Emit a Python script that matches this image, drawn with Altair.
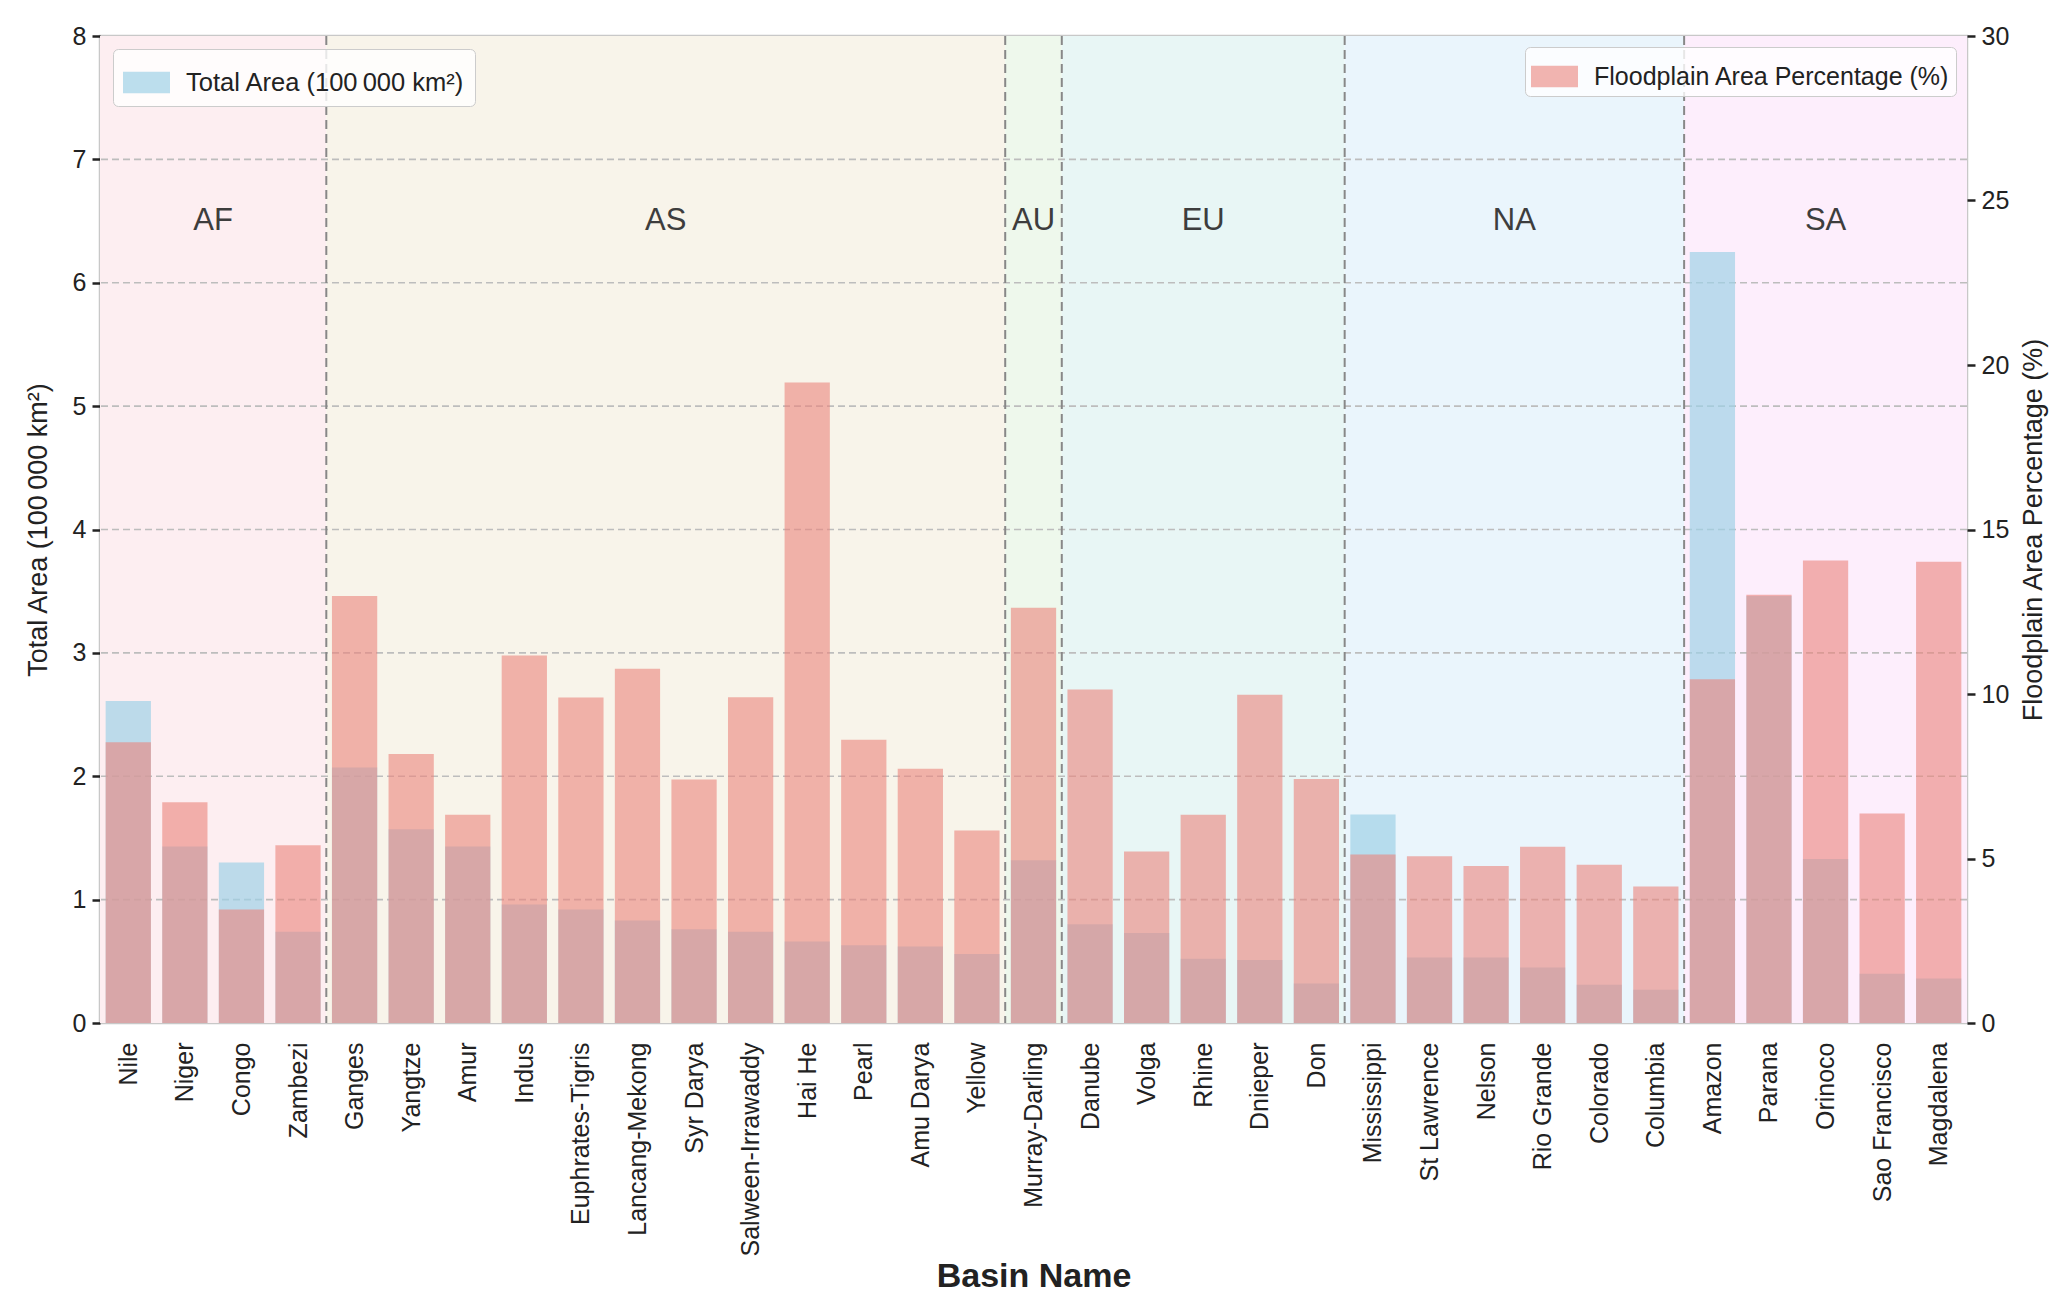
import json
import altair as alt
import pandas as pd

basins = ["Nile", "Niger", "Congo", "Zambezi",
          "Ganges", "Yangtze", "Amur", "Indus", "Euphrates-Tigris", "Lancang-Mekong",
          "Syr Darya", "Salween-Irrawaddy", "Hai He", "Pearl", "Amu Darya", "Yellow",
          "Murray-Darling",
          "Danube", "Volga", "Rhine", "Dnieper", "Don",
          "Mississippi", "St Lawrence", "Nelson", "Rio Grande", "Colorado", "Columbia",
          "Amazon", "Parana", "Orinoco", "Sao Francisco", "Magdalena"]
continents = (["AF"] * 4 + ["AS"] * 12 + ["AU"] * 1 + ["EU"] * 5 + ["NA"] * 6 + ["SA"] * 5)
total_area = [2.61, 1.43, 1.30, 0.74,
              2.07, 1.57, 1.43, 0.96, 0.92, 0.83, 0.76, 0.74, 0.66, 0.63, 0.62, 0.56,
              1.32,
              0.80, 0.73, 0.52, 0.51, 0.32,
              1.69, 0.53, 0.53, 0.45, 0.31, 0.27,
              6.25, 3.46, 1.33, 0.40, 0.36]
floodplain_pct = [8.53, 6.71, 3.45, 5.40,
                  12.98, 8.18, 6.33, 11.17, 9.89, 10.77, 7.40, 9.90, 19.47, 8.61, 7.73, 5.85,
                  12.62,
                  10.14, 5.21, 6.33, 9.98, 7.42,
                  5.12, 5.07, 4.77, 5.36, 4.81, 4.15,
                  10.45, 13.02, 14.06, 6.37, 14.02]
continent_order = ["AF", "AS", "AU", "EU", "NA", "SA"]
continent_bg = ["#fdeef1", "#f8f4ea", "#eef8ec", "#e8f6f5", "#eaf5fc", "#fdeefc"]

label_area = "Total Area (100\u2009000 km²)"
label_pct = "Floodplain Area Percentage (%)"

n = len(basins)
df = pd.DataFrame({
    "idx": list(range(n)),
    "basin": basins,
    "continent": continents,
    "area": total_area,
    "pct": floodplain_pct,
    "s_area": [label_area] * n,
    "s_pct": [label_pct] * n,
})

rows = []
for c in continent_order:
    ids = [i for i, cc in enumerate(continents) if cc == c]
    rows.append({"continent": c, "start": min(ids) - 0.5, "end": max(ids) + 0.5,
                 "mid": (min(ids) + max(ids)) / 2})
reg = pd.DataFrame(rows)
bounds = pd.DataFrame({"b": reg["end"].tolist()[:-1]})
grid_df = pd.DataFrame({"g": [1, 2, 3, 4, 5, 6, 7]})

W, H = 1867, 987
FONT = "Liberation Sans, Arial, sans-serif"
xscale = alt.Scale(domain=[-0.5, n - 0.5], nice=False, zero=False)
yl = alt.Scale(domain=[0, 8], nice=False)
yr = alt.Scale(domain=[0, 30], nice=False)

rect_sym = "M-1,-0.46L1,-0.46L1,0.46L-1,0.46Z"
names_js = json.dumps(basins)

x_axis = alt.Axis(values=list(range(n)), labelExpr=f"{names_js}[datum.value]",
                  title="Basin Name", titleFontSize=34, titleFontWeight="bold",
                  titleFont=FONT, titleColor="#222", titlePadding=36,
                  labelAngle=270, labelFontSize=25, labelFont=FONT, labelColor="#222",
                  labelPadding=19, labelLimit=500, ticks=False, domain=False, grid=False,
                  labelFlush=False, labelOverlap=False)
yl_axis = alt.Axis(values=[0, 1, 2, 3, 4, 5, 6, 7, 8], format="d", title=label_area,
                   titleFontSize=27, titleFont=FONT, titleFontWeight="normal",
                   titleColor="#222", titlePadding=20,
                   labelFontSize=25, labelFont=FONT, labelColor="#222", labelPadding=6,
                   tickColor="#222", tickWidth=2.5, tickSize=8, domain=False, grid=False)
yr_axis = alt.Axis(orient="right", values=[0, 5, 10, 15, 20, 25, 30], format="d", title=label_pct,
                   titleFontSize=27, titleFont=FONT, titleFontWeight="normal",
                   titleColor="#222", titlePadding=12, titleAngle=270, titleBaseline="top",
                   labelFontSize=25, labelFont=FONT, labelColor="#222", labelPadding=6,
                   tickColor="#222", tickWidth=2.5, tickSize=8, domain=False, grid=False)

bg = alt.Chart(reg).mark_rect().encode(
    x=alt.X("start:Q", scale=xscale, axis=x_axis),
    x2="end:Q",
    y=alt.value(0),
    y2=alt.value(H),
    fill=alt.Fill("continent:N", scale=alt.Scale(domain=continent_order, range=continent_bg), legend=None),
)

grid = alt.Chart(grid_df).mark_rule(color="#bdbdbd", strokeDash=[7, 4], strokeWidth=1.6).encode(
    y=alt.Y("g:Q", scale=yl, axis=yl_axis),
)

blue = alt.Chart(df).transform_calculate(
    x0="datum.idx - 0.4", x1="datum.idx + 0.4"
).mark_bar(opacity=0.7).encode(
    x=alt.X("x0:Q", scale=xscale, axis=x_axis),
    x2="x1:Q",
    y=alt.Y("area:Q", scale=yl, axis=yl_axis),
    y2=alt.datum(0),
    color=alt.Color("s_area:N", scale=alt.Scale(domain=[label_area], range=["#a0d1e7"]),
                    legend=alt.Legend(orient="top-left", title=None, offset=13,
                                      labelFontSize=25.5, labelFont=FONT, labelColor="#222",
                                      labelLimit=800, symbolType=rect_sym, symbolSize=2209,
                                      symbolOpacity=0.7, symbolStrokeWidth=0,
                                      fillColor="rgba(255,255,255,0.8)", strokeColor="#cccccc",
                                      cornerRadius=5, padding=10, labelOffset=16)),
)

dividers = alt.Chart(bounds).mark_rule(color="#888888", strokeDash=[9, 5], strokeWidth=2).encode(
    x=alt.X("b:Q", scale=xscale, axis=x_axis),
    y=alt.value(0),
    y2=alt.value(H),
)

cont_text = alt.Chart(reg).mark_text(fontSize=31, font=FONT, color="#3d3d3d", baseline="middle").encode(
    x=alt.X("mid:Q", scale=xscale, axis=x_axis),
    y=alt.datum(6.5),
    text="continent:N",
)

left = alt.layer(bg, grid, blue, dividers, cont_text)

red = alt.Chart(df).transform_calculate(
    x0="datum.idx - 0.4", x1="datum.idx + 0.4"
).mark_bar(opacity=0.6).encode(
    x=alt.X("x0:Q", scale=xscale, axis=x_axis),
    x2="x1:Q",
    y=alt.Y("pct:Q", scale=yr, axis=yr_axis),
    y2=alt.datum(0),
    color=alt.Color("s_pct:N", scale=alt.Scale(domain=[label_pct], range=["#eb837c"]),
                    legend=alt.Legend(orient="top-right", title=None, offset=11,
                                      labelFontSize=25, labelFont=FONT, labelColor="#222",
                                      labelLimit=800, symbolType=rect_sym, symbolSize=2209,
                                      symbolOpacity=0.6, symbolStrokeWidth=0,
                                      fillColor="rgba(255,255,255,0.8)", strokeColor="#cccccc",
                                      cornerRadius=5, padding=6, labelOffset=16)),
)

chart = alt.layer(left, red).resolve_scale(
    y="independent", color="independent", fill="independent"
).properties(
    width=W, height=H,
    padding={"left": 16, "top": 16, "right": 5, "bottom": 5},
    background="white",
).configure_view(stroke="#c8c8c8", strokeWidth=2.5)

chart.save("out.html", embed_options={"renderer": "svg", "actions": False})
